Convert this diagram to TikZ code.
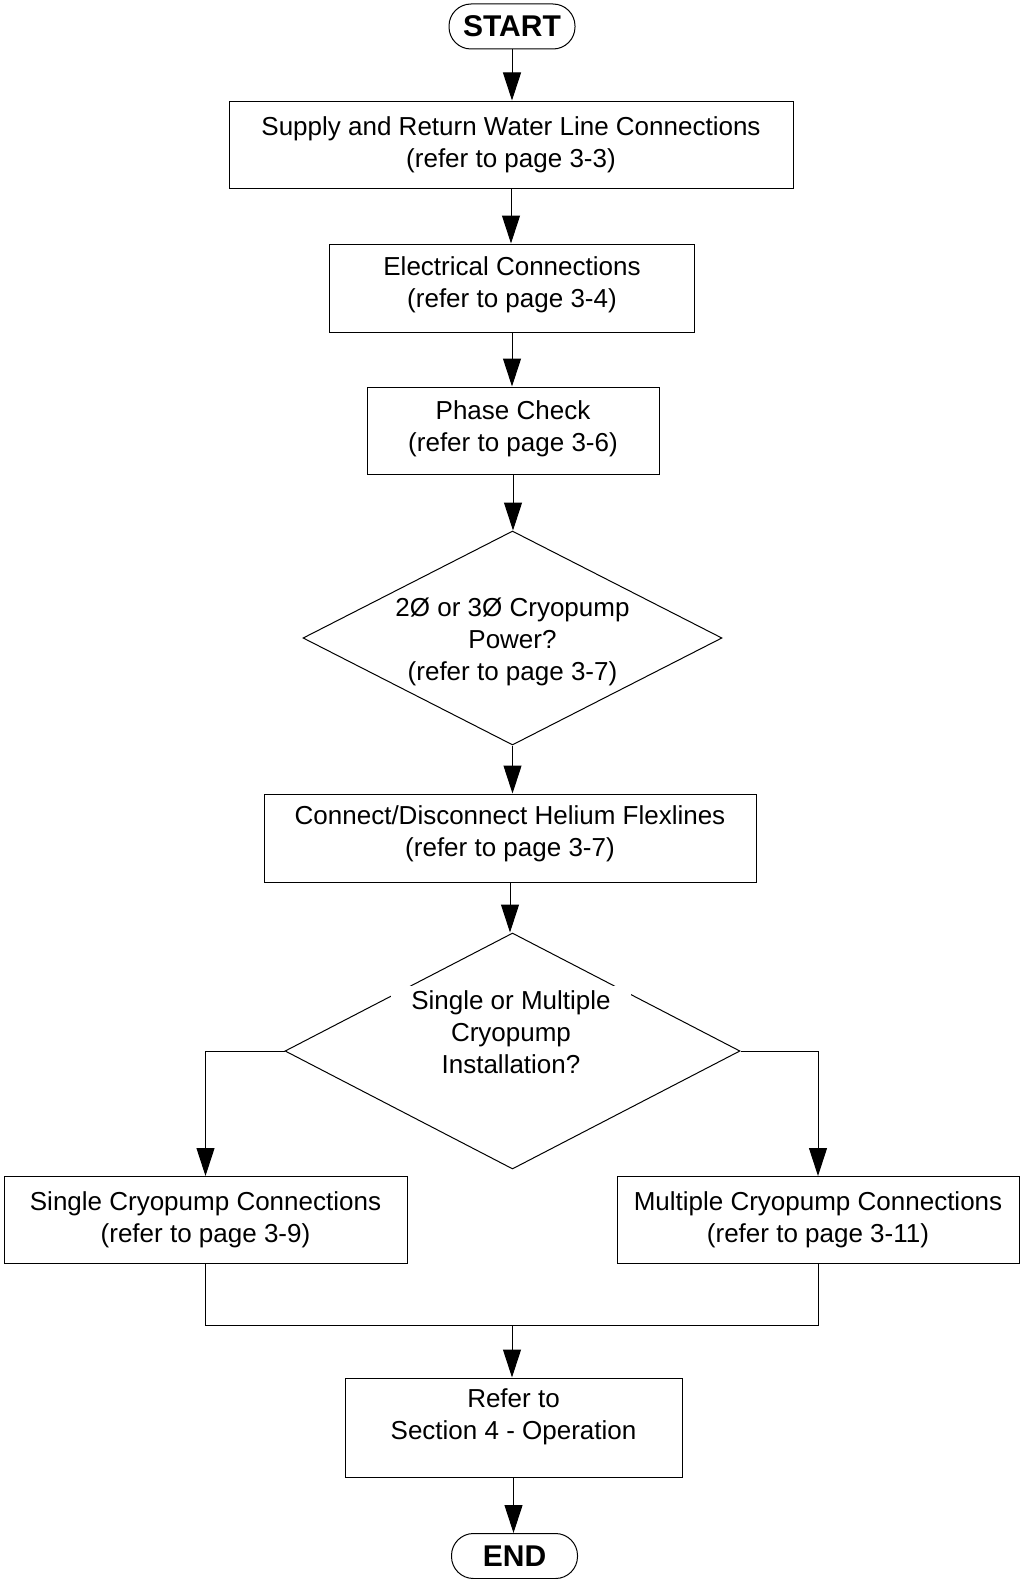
\documentclass[tikz,border=0pt]{standalone}
\usepackage{fontspec}
\setmainfont{Liberation Sans}
\usetikzlibrary{arrows.meta,shapes.geometric}
\begin{document}
\begin{tikzpicture}[x=1pt,y=-1pt,
  line width=1pt,
  txt/.style={font=\fontsize{26}{32}\selectfont, align=center},
  proc/.style={draw, txt, inner sep=0pt},
  term/.style={draw, rounded corners=22pt, inner sep=0pt, minimum width=126pt, minimum height=45pt, font=\fontsize{30}{36}\selectfont\bfseries},
  dec/.style={draw, diamond, inner sep=0pt},
  arr/.style={-{Triangle[length=28pt,width=18pt]}}
]
\useasboundingbox (0,0) rectangle (1021,1579);

\node[term] (start) at (512,26.5) {START};
\node[proc, minimum width=564pt, minimum height=87pt] (b1) at (511,144.5) {Supply and Return Water Line Connections\\(refer to page 3-3)};
\node[proc, minimum width=365pt, minimum height=88pt] (b2) at (512,288) {};
\node[txt] (b2t) at (512,285) {Electrical Connections\\(refer to page 3-4)};
\node[proc, minimum width=292pt, minimum height=87pt] (b3) at (513,430.5) {};
\node[txt] (b3t) at (513,428.5) {Phase Check\\(refer to page 3-6)};
\node[dec, minimum width=419pt, minimum height=214pt] (d1) at (512.5,638) {};
\node[txt] (d1t) at (512.5,642) {2Ø or 3Ø Cryopump\\Power?\\(refer to page 3-7)};
\node[proc, minimum width=492pt, minimum height=88pt] (b4) at (510,838) {};
\node[txt] (b4t) at (510,834) {Connect/Disconnect Helium Flexlines\\(refer to page 3-7)};
\node[dec, minimum width=455pt, minimum height=236pt] (d2) at (512.5,1051) {};
\node[txt, fill=white, inner xsep=20pt, inner ysep=4pt] (d2t) at (511,1032) {Single or Multiple\\Cryopump\\Installation?};
\node[proc, minimum width=403pt, minimum height=87pt] (b5) at (205.5,1220) {Single Cryopump Connections\\(refer to page 3-9)};
\node[proc, minimum width=402pt, minimum height=87pt] (b6) at (818,1220) {Multiple Cryopump Connections\\(refer to page 3-11)};
\coordinate (m) at (512,1325);
\node[proc, minimum width=337pt, minimum height=99pt] (b7) at (513.5,1427.5) {};
\node[txt] (b7t) at (513.5,1417) {Refer to\\Section 4 - Operation};
\node[term] (end) at (514.5,1556) {END};

\draw[arr] (start) -- (start |- b1.north);
\draw[arr] (b1) -- (b1 |- b2.north);
\draw[arr] (b2) -- (b2 |- b3.north);
\draw[arr] (b3) -- (b3 |- d1.north);
\draw[arr] (d1) -- (d1 |- b4.north);
\draw[arr] (b4) -- (b4 |- d2.north);
\draw[arr] (d2.west) -| (b5.north);
\draw[arr] (d2.east) -| (b6.north);
\draw (b5.south) |- (m) -| (b6.south);
\draw[arr] (m) -- (m |- b7.north);
\draw[arr] (b7) -- (b7 |- end.north);
\end{tikzpicture}
\end{document}
